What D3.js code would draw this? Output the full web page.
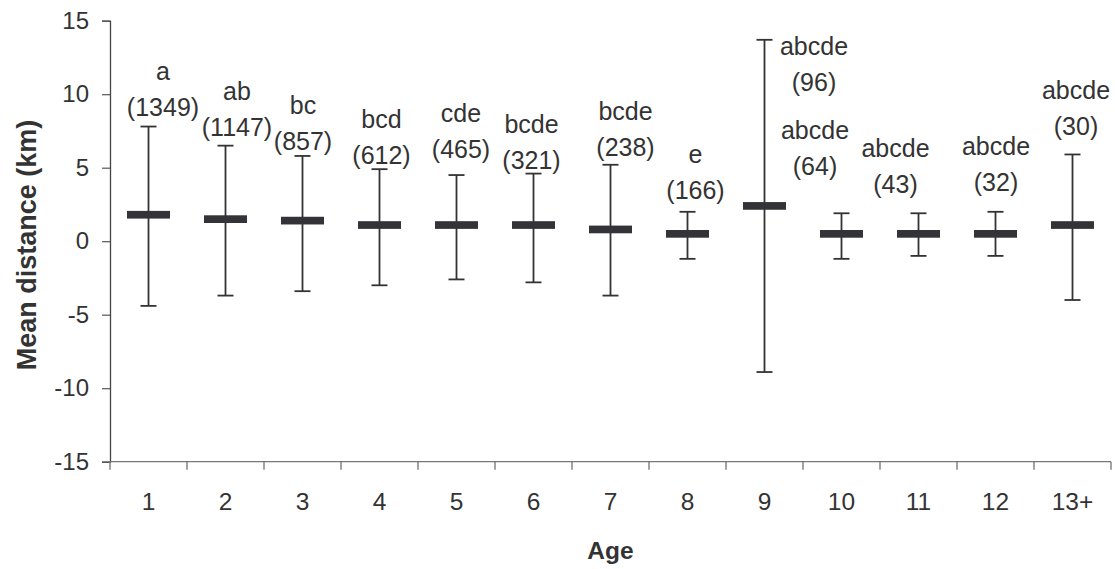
<!DOCTYPE html>
<html>
<head>
<meta charset="utf-8">
<script src="https://cdn.jsdelivr.net/npm/d3@7"></script>
<style>
  html, body { margin: 0; padding: 0; background: #fff; }
  svg { display: block; font-family: "Liberation Sans", Arial, Helvetica, sans-serif; }
</style>
</head>
<body>
<svg id="chart" width="1115" height="569"></svg>
<script>
// Age classes and mean dispersal distance (km) with error-bar limits
const ages = ["1", "2", "3", "4", "5", "6", "7", "8", "9", "10", "11", "12", "13+"];
const meanDist = [1.8, 1.5, 1.4, 1.1, 1.1, 1.1, 0.8, 0.5, 2.4, 0.5, 0.5, 0.5, 1.1];
const upperDist = [7.8, 6.5, 5.8, 4.9, 4.5, 4.6, 5.2, 2.0, 13.7, 1.9, 1.9, 2.0, 5.9];
const lowerDist = [-4.4, -3.7, -3.4, -3.0, -2.6, -2.8, -3.7, -1.2, -8.9, -1.2, -1.0, -1.0, -4.0];
// Significance groups and sample sizes
const groups = ["a", "ab", "bc", "bcd", "cde", "bcde", "bcde", "e", "abcde", "abcde", "abcde", "abcde", "abcde"];
const counts = [1349, 1147, 857, 612, 465, 321, 238, 166, 96, 64, 43, 32, 30];
const yTicks = [-15, -10, -5, 0, 5, 10, 15];

// Label placement nudges (px) relative to the top of each error bar: [dx, dy of count line]
const labelNudge = [
  [14.5, -10.7], [11.5, -10], [0.5, -6], [2, -5.6], [4.5, -17.4], [-2, -4.4],
  [15, -9], [8, -12.7], [49.5, 50.7], [-26.5, -38], [-23, -20.3], [0.5, -21], [3.5, -19.7]
];

const ink = "#333";
const plotLeft = 110, plotRight = 1111, plotTop = 20.7, plotBottom = 461.7;

const svg = d3.select("#chart");

const x = d3.scaleBand().domain(ages).range([plotLeft, plotRight]).padding(0);
const y = d3.scaleLinear().domain([-15, 15]).range([plotBottom, plotTop]);

const rows = ages.map((a, i) => ({
  age: a, mean: meanDist[i], hi: upperDist[i], lo: lowerDist[i],
  group: groups[i], n: counts[i], nudge: labelNudge[i]
}));

// Y axis
const yAxis = svg.append("g")
  .attr("transform", `translate(${plotLeft},0)`)
  .call(d3.axisLeft(y).tickValues(yTicks).tickSize(8).tickPadding(13).tickFormat(d => String(d)));
yAxis.select(".domain").attr("stroke", "#444").attr("stroke-width", 1.3);
yAxis.selectAll(".tick line").attr("stroke", "#555").attr("stroke-width", 1.2);
yAxis.selectAll(".tick text").attr("fill", ink).attr("font-size", 24)
  .attr("font-family", "Liberation Sans, Arial, sans-serif");

// X axis: baseline, boundary ticks, and category labels
const xAxis = svg.append("g").attr("transform", `translate(0,${plotBottom})`);
xAxis.append("line")
  .attr("x1", plotLeft).attr("x2", plotRight).attr("y1", 0).attr("y2", 0)
  .attr("stroke", "#777").attr("stroke-width", 1.3);
const bounds = ages.map(a => x(a)).concat([x(ages[ages.length - 1]) + x.bandwidth()]);
xAxis.selectAll("line.tk").data(bounds).join("line")
  .attr("class", "tk")
  .attr("x1", d => d).attr("x2", d => d).attr("y1", 0).attr("y2", 8)
  .attr("stroke", "#666").attr("stroke-width", 1.2);
xAxis.selectAll("text").data(ages).join("text")
  .attr("x", d => x(d) + x.bandwidth() / 2)
  .attr("y", 48)
  .attr("text-anchor", "middle")
  .attr("font-size", 24.5)
  .attr("fill", ink)
  .text(d => d);

// Axis titles
svg.append("text")
  .attr("transform", `translate(36,245) rotate(-90)`)
  .attr("text-anchor", "middle")
  .attr("font-size", 27)
  .attr("font-weight", "bold")
  .attr("fill", ink)
  .text("Mean distance (km)");
svg.append("text")
  .attr("x", (plotLeft + plotRight) / 2)
  .attr("y", 559)
  .attr("text-anchor", "middle")
  .attr("font-size", 24.5)
  .attr("font-weight", "bold")
  .attr("fill", ink)
  .text("Age");

// Error bars
const cx = d => x(d.age) + x.bandwidth() / 2;
const marks = svg.append("g");
const capW = 16, barW = 43, barH = 7.7;

marks.selectAll("line.whisker").data(rows).join("line")
  .attr("class", "whisker")
  .attr("x1", cx).attr("x2", cx)
  .attr("y1", d => y(d.hi)).attr("y2", d => y(d.lo))
  .attr("stroke", ink).attr("stroke-width", 1.8);
marks.selectAll("line.capHi").data(rows).join("line")
  .attr("class", "capHi")
  .attr("x1", d => cx(d) - capW / 2).attr("x2", d => cx(d) + capW / 2)
  .attr("y1", d => y(d.hi)).attr("y2", d => y(d.hi))
  .attr("stroke", ink).attr("stroke-width", 1.8);
marks.selectAll("line.capLo").data(rows).join("line")
  .attr("class", "capLo")
  .attr("x1", d => cx(d) - capW / 2).attr("x2", d => cx(d) + capW / 2)
  .attr("y1", d => y(d.lo)).attr("y2", d => y(d.lo))
  .attr("stroke", ink).attr("stroke-width", 1.8);

// Mean markers
marks.selectAll("rect.mean").data(rows).join("rect")
  .attr("class", "mean")
  .attr("x", d => cx(d) - barW / 2)
  .attr("y", d => y(d.mean) - barH / 2)
  .attr("width", barW).attr("height", barH)
  .attr("fill", "#333338");

// Group letters and sample sizes
const labels = svg.append("g").attr("font-size", 25).attr("fill", ink).attr("text-anchor", "middle");
labels.selectAll("text.n").data(rows).join("text")
  .attr("class", "n")
  .attr("x", d => cx(d) + d.nudge[0])
  .attr("y", d => y(d.hi) + d.nudge[1])
  .text(d => `(${d.n})`);
labels.selectAll("text.grp").data(rows).join("text")
  .attr("class", "grp")
  .attr("x", d => cx(d) + d.nudge[0])
  .attr("y", d => y(d.hi) + d.nudge[1] - 36)
  .text(d => d.group);
</script>
</body>
</html>
